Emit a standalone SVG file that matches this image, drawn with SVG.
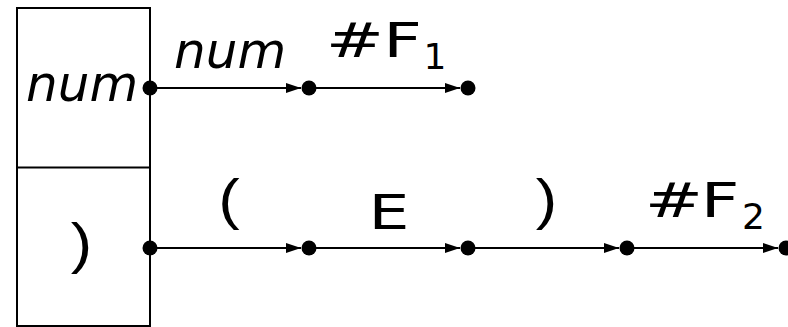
<svg xmlns="http://www.w3.org/2000/svg" width="788" height="327" viewBox="0 0 788 327">
<style>
.box{fill:none;stroke:#000;stroke-width:2}
.edge{stroke:#000;stroke-width:2;fill:none}
.dot{fill:#000}
text{font-family:"DejaVu Sans","Liberation Sans",sans-serif;fill:#000}
.it{font-style:italic;font-size:50px}
.lb{font-size:48px}
.sub{font-size:36px}
.par{font-family:"Liberation Sans","DejaVu Sans",sans-serif;font-size:56px}
</style>
<defs>
<marker id="arr" markerUnits="userSpaceOnUse" markerWidth="15" markerHeight="10" refX="15" refY="5" orient="auto">
<path d="M0,0 L15,5 L0,10 z" fill="#000"/>
</marker>
</defs>
<rect width="788" height="327" fill="#fff"/>
<g id="state">
<rect class="box" x="17" y="8" width="133" height="318"/>
<line class="box" x1="17" y1="167.5" x2="150" y2="167.5"/>
<text class="it" x="26" y="101">num</text>
<text class="par" text-anchor="middle" transform="translate(81.5,261.5) scale(1.15,1)">)</text>
</g>
<g id="connectors">
<line class="edge" x1="150" y1="88" x2="301" y2="88" marker-end="url(#arr)"/>
<line class="edge" x1="309" y1="88" x2="460" y2="88" marker-end="url(#arr)"/>
<line class="edge" x1="150" y1="248" x2="301" y2="248" marker-end="url(#arr)"/>
<line class="edge" x1="309" y1="248" x2="460" y2="248" marker-end="url(#arr)"/>
<line class="edge" x1="468" y1="248" x2="619" y2="248" marker-end="url(#arr)"/>
<line class="edge" x1="627" y1="248" x2="778" y2="248" marker-end="url(#arr)"/>
</g>
<g id="labels">
<text class="it" x="174" y="68">num</text>
<text class="lb" text-anchor="middle" transform="translate(355,57) scale(1.45,1)">#</text>
<text class="lb" text-anchor="middle" transform="translate(402.5,57) scale(1.4,1)">F</text>
<text class="sub" text-anchor="middle" x="435" y="69">1</text>
<text class="par" text-anchor="middle" transform="translate(229,217.5) scale(1.15,1)">(</text>
<text class="lb" text-anchor="middle" font-size="49" transform="translate(389,229) scale(1.35,1)">E</text>
<text class="par" text-anchor="middle" transform="translate(546.5,217.5) scale(1.15,1)">)</text>
<text class="lb" text-anchor="middle" transform="translate(674,217) scale(1.45,1)">#</text>
<text class="lb" text-anchor="middle" transform="translate(720,217) scale(1.4,1)">F</text>
<text class="sub" text-anchor="middle" x="753.5" y="229">2</text>
</g>
<g id="n0"><circle class="dot" cx="150" cy="88" r="7.5"/></g>
<g id="n1"><circle class="dot" cx="309" cy="88" r="7.5"/></g>
<g id="n2"><circle class="dot" cx="468" cy="88" r="7.5"/></g>
<g id="n3"><circle class="dot" cx="150" cy="248" r="7.5"/></g>
<g id="n4"><circle class="dot" cx="309" cy="248" r="7.5"/></g>
<g id="n5"><circle class="dot" cx="468" cy="248" r="7.5"/></g>
<g id="n6"><circle class="dot" cx="627" cy="248" r="7.5"/></g>
<g id="n7"><circle class="dot" cx="786" cy="248" r="7.5"/></g>
</svg>
